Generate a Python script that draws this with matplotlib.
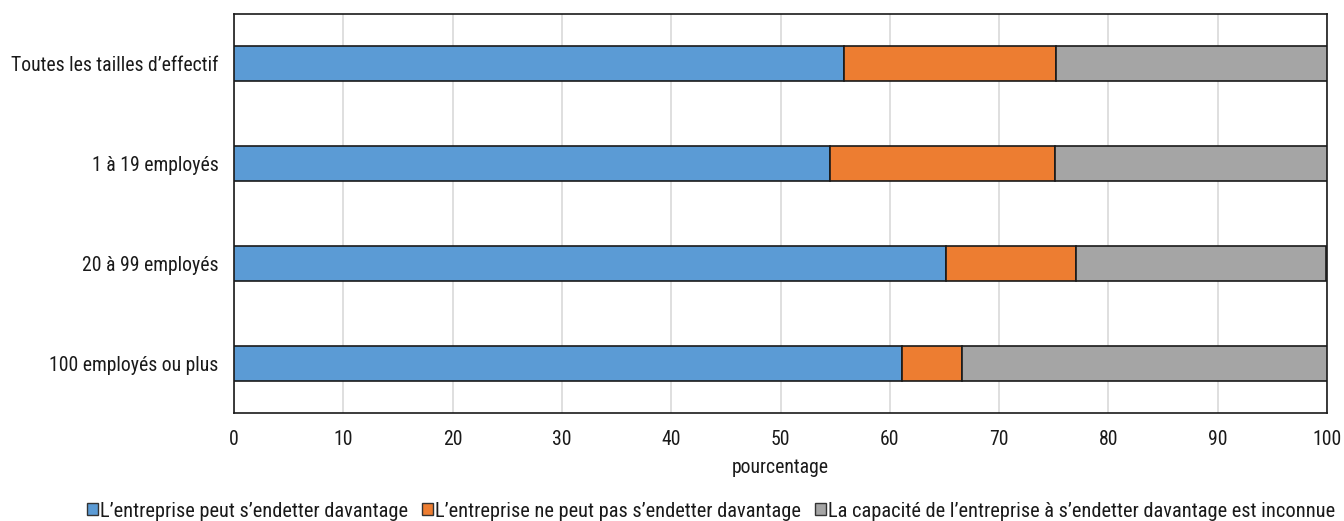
import matplotlib
matplotlib.use("Agg")
import matplotlib.pyplot as plt
from matplotlib.patches import Patch

categories = ["Toutes les tailles d\u2019effectif", "1 \u00e0 19 employ\u00e9s",
              "20 \u00e0 99 employ\u00e9s", "100 employ\u00e9s ou plus"]
peut = [55.8, 54.5, 65.1, 61.1]
ne_peut_pas = [19.4, 20.6, 11.9, 5.5]
inconnue = [24.8, 24.9, 22.9, 33.4]
series_labels = ["L\u2019entreprise peut s\u2019endetter davantage",
                 "L\u2019entreprise ne peut pas s\u2019endetter davantage",
                 "La capacit\u00e9 de l\u2019entreprise \u00e0 s\u2019endetter davantage est inconnue"]
colors = ["#5B9BD5", "#ED7D31", "#A5A5A5"]
xticks = [0, 10, 20, 30, 40, 50, 60, 70, 80, 90, 100]

plt.rcParams['font.family'] = ['Roboto Condensed', 'Archivo Narrow', 'Barlow Condensed', 'DejaVu Sans']
FS = 14.2
LFS = 14.7

fig = plt.figure(figsize=(13.44, 5.21), dpi=100)
ax = fig.add_axes([234/1344, 108/521, 1093/1344, 399/521])

y = list(range(len(categories)))
left = [0]*len(categories)
for vals, c, lab in zip([peut, ne_peut_pas, inconnue], colors, series_labels):
    ax.barh(y, vals, left=left, height=0.35, color=c, edgecolor="#1a1a1a",
            linewidth=1.2, label=lab, zorder=3)
    left = [l + v for l, v in zip(left, vals)]

ax.set_ylim(3.5, -0.5)
ax.set_xlim(0, 100)
ax.set_yticks(y)
ax.set_yticklabels(categories, fontsize=FS, color="#1a1a1a")
ax.set_xticks(xticks)
ax.set_xticklabels([str(t) for t in xticks], fontsize=FS, color="#1a1a1a")
ax.tick_params(length=0)
ax.tick_params(axis='x', pad=12)
ax.tick_params(axis='y', pad=11)
ax.grid(axis='x', color="#d9d9d9", linewidth=1.2, zorder=0)
for s in ax.spines.values():
    s.set_color("#1a1a1a")
    s.set_linewidth(1.2)
ax.set_xlabel("pourcentage", fontsize=FS, labelpad=7, color="#1a1a1a")

handles = [Patch(facecolor=c, edgecolor="#333333", linewidth=1.0) for c in colors]
fig.legend(handles, series_labels, loc="center", bbox_to_anchor=(0.529, 0.019),
           ncol=3, frameon=False, fontsize=LFS, handlelength=0.54, handleheight=0.54,
           handletextpad=0.1, columnspacing=0.68, labelcolor="#1a1a1a",
           borderpad=0, borderaxespad=0)

fig.savefig("out.png", dpi=100)
